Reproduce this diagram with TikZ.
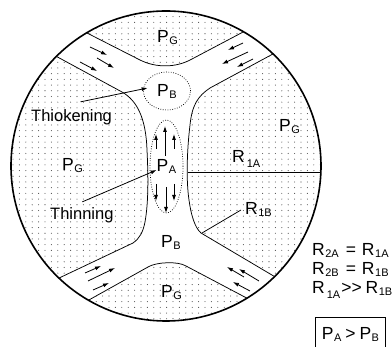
\documentclass[tikz,border=0pt]{standalone}
\usepackage{fontspec}
\setmainfont{Liberation Sans}
\usetikzlibrary{arrows.meta,shapes.geometric,calc}
\newcommand\sbs[1]{\hspace{0.5pt}\raisebox{-2pt}{\fontsize{11}{11}\selectfont #1}}
\newcommand\sbl[1]{\hspace{2pt}\raisebox{-5pt}{\fontsize{11}{11}\selectfont #1}}
\begin{document}
\begin{tikzpicture}[x=1pt,y=-1pt,
  bound/.style={line width=0.75pt},
  flow/.style={line width=0.8pt,-{Latex[length=6pt,width=4pt]}},
  lbl/.style={font=\fontsize{17.5}{18}\selectfont,inner sep=0pt},
  word/.style={font=\fontsize{16.5}{17}\selectfont,inner sep=0pt},
  dotring/.style={ellipse,draw,line width=0.7pt,dash pattern=on 0.8pt off 1.6pt,inner sep=0pt,font=\fontsize{17.5}{18}\selectfont}]
\useasboundingbox (0,0) rectangle (392,347);
\coordinate (O) at (166,166);
% dotted (stippled) P_G regions
\begin{scope}
  \clip (O) circle[radius=155pt];
  \clip (70,-5) -- (87,33) -- (140,60) .. controls (156,68) and (176,68) .. (192,59) -- (243.5,31.8) -- (260,-5) -- cycle
        (0,40) -- (56.4,56.4) -- (122,92) .. controls (138,101) and (146,120) .. (147,150) .. controls (148,170) and (149,200) .. (145,222) .. controls (143,232) and (140,238) .. (133,243) -- (58.9,278.1) -- (0,300) -- cycle
        (340,40) -- (273.1,53.9) -- (210,88) .. controls (198,96) and (192,105) .. (190,125) .. controls (187,150) and (186,180) .. (189,200) .. controls (191,215) and (195,228) .. (201,233) -- (274.6,276.6) -- (340,300) -- cycle
        (70,340) -- (88.5,300.2) -- (148,267) .. controls (156,262) and (178,261) .. (186,266) -- (247,298.2) -- (260,340) -- cycle;
  \fill[black!70] foreach \i in {0,...,48} {foreach \j in {0,...,55} {(13+\i*6.4,11+\j*5.7) circle[radius=0.55pt]}};
\end{scope}
% boundaries
\draw[bound] (87,33) -- (140,60) .. controls (156,68) and (176,68) .. (192,59) -- (243.5,31.8);
\draw[bound] (56.4,56.4) -- (122,92) .. controls (138,101) and (146,120) .. (147,150) .. controls (148,170) and (149,200) .. (145,222) .. controls (143,232) and (140,238) .. (133,243) -- (58.9,278.1);
\draw[bound] (273.1,53.9) -- (210,88) .. controls (198,96) and (192,105) .. (190,125) .. controls (187,150) and (186,180) .. (189,200) .. controls (191,215) and (195,228) .. (201,233) -- (274.6,276.6);
\draw[bound] (88.5,300.2) -- (148,267) .. controls (156,262) and (178,261) .. (186,266) -- (247,298.2);
\draw[line width=1.6pt] (O) circle[radius=155pt];
% flow arrows in the four bands
\draw[flow] (90,47) -- (107,55);
\draw[flow] (97,58) -- (114,68);
\draw[flow] (80,62) -- (97,71);
\draw[flow] (243,43) -- (228,50);
\draw[flow] (248,52) -- (222,64);
\draw[flow] (253,59) -- (237,67);
\draw[flow] (85,273) -- (101,266);
\draw[flow] (88,281) -- (115,268);
\draw[flow] (93,290) -- (109,283);
\draw[flow] (244,277) -- (227,267);
\draw[flow] (259,281) -- (239,269);
\draw[flow] (250,291) -- (233,282);
% ellipses
\node[dotring,minimum width=47pt,minimum height=38pt] (pbt) at (167,91) {P\sbs{B}};
\node[dotring,minimum width=33pt,minimum height=93pt] (pa) at (166.5,166.5) {P\sbs{A}};
% arrows inside P_A
\draw[flow] (165,156) -- (165,126);
\draw[flow] (156,149) -- (156,134);
\draw[flow] (174,149) -- (174,134);
\draw[flow] (166,187) -- (166,213);
\draw[flow] (156,184) -- (156,201);
\draw[flow] (174,184) -- (174,201);
% R lines
\coordinate (r1aL) at (187.5,172);
\coordinate (r1aR) at (321,172);
\draw[bound] (r1aL) -- (r1aR);
\node[lbl,anchor=base west] (r1a) at (232,163) {R\sbl{1A}};
\node[lbl,anchor=base west] (r1b) at (245,215) {R\sbs{1B}};
\coordinate (r1bS) at (202,233);
\draw[bound] (r1bS) -- ($(r1b.base west)+(-4,-5)$);
% labels
\node[lbl,anchor=base west] (pgt) at (157,43) {P\sbs{G}};
\node[lbl,anchor=base west] (pgl) at (62,171) {P\sbs{G}};
\node[lbl,anchor=base west] (pgr) at (279,132) {P\sbs{G}};
\node[lbl,anchor=base west] (pgb) at (161,298) {P\sbs{G}};
\node[lbl,anchor=base west] (pbb) at (161,248) {P\sbs{B}};
\node[word,anchor=base west] (thk) at (31,122) {Thiokening};
\node[word,anchor=base west] (thn) at (50,220) {Thinning};
\draw[flow] ($(thk.north)+(9,-8)$) -- ($(pbt.west)+(4.5,-3)$);
\draw[flow] ($(thn.north)+(0.5,-6)$) -- ($(pa.west)+(7,3.5)$);
% relations
\node[lbl,anchor=base west] (eq1) at (312,256) {R\sbs{2A}\hspace{7pt}=\hspace{6pt}R\sbs{1A}};
\node[lbl,anchor=base west] (eq2) at (312,275) {R\sbs{2B}\hspace{7pt}=\hspace{6pt}R\sbs{1B}};
\node[lbl,anchor=base west] (eq3) at (312,294) {R\sbl{1A}\hspace{1pt}>\kern0pt>\hspace{4pt}R\sbs{1B}};
\node[lbl,draw,line width=0.9pt,minimum width=70pt,minimum height=34pt,anchor=north west] (cmp) at (315,317) {P\sbs{A}\hspace{4pt}>\hspace{4pt}P\sbs{B}};
\end{tikzpicture}
\end{document}
